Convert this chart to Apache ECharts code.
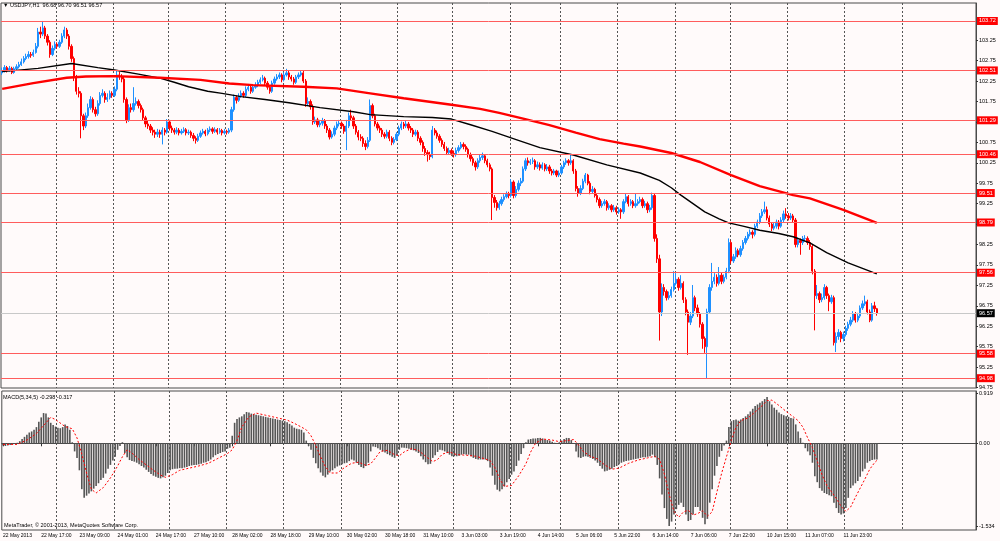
<!DOCTYPE html>
<html>
<head>
<meta charset="utf-8">
<title>USDJPY,H1</title>
<script src="https://cdn.jsdelivr.net/npm/echarts@6/dist/echarts.min.js"></script>
<style>html,body{margin:0;padding:0;background:#fffafa;}</style>
</head>
<body>
<div id="main" style="width:1000px;height:541px;"></div>
<script type="text/javascript">
// hourly bars, 22 May 2013 01:00 .. 12 Jun 2013 15:00 (open of bar i = close of bar i-1)
var firstOpen = 102.45;
var closes = [
  102.50,102.58,102.52,102.56,102.46,102.55,102.60,102.65,102.72,102.80,
  102.85,102.90,102.88,102.95,103.10,103.45,103.40,103.55,103.35,103.20,
  102.90,103.05,103.15,103.10,103.20,103.35,103.50,103.35,103.10,102.80,
  102.35,102.00,101.95,101.40,101.15,101.40,101.60,101.80,101.55,101.45,
  101.70,101.90,101.95,101.80,101.85,101.95,101.90,102.05,102.40,102.35,
  102.30,101.80,101.30,101.60,101.55,101.70,101.75,101.65,101.55,101.35,
  101.20,101.15,101.05,101.00,100.95,101.00,100.95,101.05,101.00,101.25,
  101.10,101.05,101.00,101.05,100.98,101.02,101.06,100.98,101.00,100.92,
  100.85,100.80,100.90,100.98,101.02,100.96,101.05,101.08,101.02,101.06,
  101.00,101.04,100.98,101.02,101.00,101.05,101.55,101.85,101.78,101.88,
  101.95,101.90,102.05,102.10,102.00,102.10,102.15,102.22,102.28,102.32,
  102.20,102.10,102.00,102.20,102.30,102.35,102.40,102.28,102.40,102.45,
  102.35,102.30,102.22,102.35,102.40,102.45,102.25,101.70,101.75,101.62,
  101.25,101.30,101.18,101.22,101.28,101.15,101.05,100.88,100.95,101.10,
  101.20,101.22,101.15,101.02,101.15,101.40,101.35,101.15,101.00,100.88,
  100.85,100.72,100.65,100.80,101.65,101.40,101.20,101.10,101.05,100.95,
  100.90,101.00,100.85,100.75,100.82,100.95,101.10,101.20,101.15,101.20,
  101.10,101.05,100.95,101.00,100.85,100.75,100.60,100.50,100.45,100.40,
  101.05,100.98,100.90,100.80,100.70,100.60,100.50,100.55,100.48,100.45,
  100.55,100.62,100.70,100.65,100.58,100.45,100.35,100.25,100.15,100.30,
  100.38,100.42,100.30,100.20,100.10,99.40,99.28,99.15,99.25,99.35,
  99.42,99.48,99.45,99.78,99.45,99.60,99.75,99.80,100.10,100.30,
  100.25,100.28,100.30,100.15,100.20,100.12,100.20,100.10,100.15,100.05,
  100.00,100.05,99.95,100.00,100.15,100.25,100.30,100.25,100.30,100.05,
  99.62,99.50,99.62,99.80,99.95,99.75,99.55,99.60,99.45,99.35,
  99.20,99.25,99.30,99.15,99.20,99.10,99.15,99.05,99.10,99.05,
  99.30,99.42,99.25,99.30,99.20,99.25,99.30,99.35,99.20,99.25,
  99.10,99.15,99.45,98.40,97.90,96.60,97.20,97.10,96.95,97.00,
  97.15,97.30,97.40,97.20,97.30,96.90,96.60,96.35,96.50,96.95,
  96.70,96.55,96.30,95.95,95.75,96.60,97.20,97.35,97.45,97.30,
  97.50,97.35,97.45,97.60,98.30,97.85,97.95,98.10,98.00,98.15,
  98.30,98.40,98.50,98.55,98.50,98.70,98.80,98.95,99.05,99.10,
  98.90,98.75,98.65,98.70,98.80,98.70,98.85,99.00,98.95,98.90,
  98.95,98.85,98.25,98.35,98.30,98.40,98.40,98.30,98.20,97.60,
  97.00,97.05,96.90,96.95,97.20,97.00,96.85,96.95,95.85,96.00,
  96.10,95.95,96.05,96.20,96.30,96.40,96.55,96.40,96.50,96.70,
  96.80,96.85,96.60,96.40,96.75,96.68,96.57
];
var highs = [
  102.58,102.64,102.62,102.62,102.60,102.60,102.66,102.72,102.80,102.86,
  102.92,102.98,102.96,103.02,103.18,103.55,103.58,103.72,103.60,103.40,
  103.25,103.12,103.22,103.20,103.26,103.42,103.58,103.55,103.40,103.15,
  102.85,102.40,102.10,102.00,101.45,101.48,101.70,101.88,101.85,101.62,
  101.78,101.98,102.05,102.00,101.95,102.02,102.00,102.12,102.50,102.48,
  102.42,102.36,101.85,101.68,101.70,102.10,101.85,101.80,101.70,101.60,
  101.40,101.28,101.20,101.12,101.06,101.08,101.06,101.12,101.10,101.32,
  101.30,101.16,101.10,101.12,101.10,101.08,101.12,101.10,101.06,101.04,
  100.98,100.90,100.96,101.04,101.08,101.06,101.10,101.14,101.12,101.12,
  101.10,101.10,101.08,101.08,101.06,101.10,101.62,101.92,101.90,101.95,
  102.02,102.00,102.12,102.18,102.14,102.16,102.22,102.28,102.34,102.40,
  102.36,102.25,102.15,102.26,102.36,102.42,102.46,102.44,102.46,102.55,
  102.50,102.40,102.35,102.40,102.46,102.52,102.50,102.30,101.85,101.80,
  101.68,101.38,101.35,101.30,101.35,101.32,101.20,101.10,101.02,101.16,
  101.26,101.30,101.26,101.20,101.30,101.48,101.55,101.40,101.20,101.05,
  100.95,100.90,100.80,100.88,101.80,101.70,101.45,101.25,101.16,101.10,
  101.00,101.06,101.05,100.90,100.88,101.00,101.16,101.26,101.25,101.28,
  101.25,101.15,101.10,101.06,101.05,100.90,100.80,100.66,100.56,100.52,
  101.15,101.10,101.04,100.95,100.85,100.76,100.65,100.62,100.60,100.55,
  100.62,100.68,100.76,100.75,100.70,100.62,100.50,100.40,100.30,100.36,
  100.45,100.50,100.46,100.35,100.25,100.14,99.46,99.34,99.32,99.42,
  99.48,99.55,99.54,99.85,99.82,99.68,99.82,99.88,100.16,100.36,
  100.38,100.34,100.38,100.34,100.28,100.26,100.26,100.24,100.22,100.20,
  100.10,100.10,100.08,100.06,100.20,100.30,100.36,100.34,100.45,100.34,
  100.10,99.68,99.70,99.86,100.00,99.98,99.80,99.68,99.64,99.50,
  99.40,99.32,99.36,99.34,99.26,99.24,99.22,99.20,99.16,99.14,
  99.36,99.50,99.46,99.36,99.34,99.50,99.36,99.42,99.40,99.32,
  99.30,99.22,99.52,99.50,98.50,98.00,97.30,97.28,97.15,97.10,
  97.22,97.60,97.58,97.45,97.50,97.35,96.96,96.66,96.60,97.26,
  97.00,96.78,96.60,96.35,96.00,96.68,97.28,97.80,97.55,97.52,
  97.70,97.56,97.52,97.68,98.40,98.35,98.02,98.18,98.15,98.22,
  98.36,98.46,98.56,98.62,98.60,98.76,98.86,99.02,99.12,99.30,
  99.18,98.96,98.80,98.78,98.86,98.85,98.92,99.08,99.14,99.02,
  99.02,99.00,98.90,98.42,98.40,98.46,98.48,98.45,98.36,98.25,
  97.65,97.26,97.10,97.05,97.28,97.24,97.05,97.02,97.00,96.10,
  96.18,96.14,96.12,96.26,96.36,96.48,96.62,96.60,96.58,96.76,
  96.88,97.00,96.90,96.66,96.82,96.85,96.70
];
var lows = [
  102.40,102.46,102.46,102.48,102.42,102.43,102.52,102.56,102.62,102.68,
  102.76,102.80,102.82,102.84,102.92,103.05,103.30,103.35,103.28,103.12,
  102.82,102.86,103.00,103.04,103.06,103.16,103.30,103.28,103.02,102.72,
  102.25,101.92,101.85,100.85,101.05,101.10,101.35,101.55,101.48,101.38,
  101.40,101.65,101.85,101.72,101.74,101.80,101.84,101.86,102.00,102.28,
  102.22,101.72,101.22,101.25,101.48,101.50,101.65,101.58,101.48,101.28,
  101.12,101.08,100.98,100.92,100.86,100.88,100.86,100.70,100.92,100.96,
  101.04,100.98,100.94,100.95,100.92,100.94,100.98,100.92,100.93,100.86,
  100.78,100.72,100.76,100.86,100.94,100.90,100.92,101.00,100.96,100.98,
  100.94,100.96,100.92,100.94,100.94,100.96,101.00,101.50,101.70,101.74,
  101.84,101.84,101.86,102.00,101.94,101.96,102.06,102.10,102.18,102.24,
  102.14,102.04,101.94,101.96,102.16,102.26,102.30,102.22,102.24,102.36,
  102.28,102.24,102.16,102.18,102.30,102.36,102.20,101.62,101.64,101.55,
  101.18,101.20,101.12,101.12,101.16,101.08,100.98,100.82,100.84,100.90,
  101.05,101.14,101.08,100.96,100.56,101.10,101.28,101.08,100.94,100.80,
  100.78,100.64,100.56,100.60,100.76,101.34,101.14,101.04,100.98,100.88,
  100.84,100.85,100.78,100.68,100.70,100.78,100.90,101.05,101.08,101.10,
  101.04,100.98,100.88,100.90,100.78,100.68,100.52,100.42,100.28,100.32,
  100.36,100.92,100.84,100.74,100.64,100.54,100.44,100.45,100.42,100.38,
  100.40,100.50,100.58,100.58,100.52,100.38,100.28,100.18,100.06,100.10,
  100.25,100.32,100.24,100.14,100.04,98.85,99.15,99.08,99.10,99.20,
  99.30,99.38,99.38,99.40,99.38,99.40,99.55,99.68,99.76,100.05,
  100.18,100.20,100.22,100.08,100.10,100.06,100.08,100.04,100.05,99.98,
  99.94,99.95,99.90,99.90,99.96,100.10,100.20,100.18,100.20,99.98,
  99.55,99.42,99.46,99.58,99.75,99.70,99.48,99.50,99.40,99.28,
  99.14,99.15,99.20,99.08,99.10,99.04,99.05,98.98,99.00,98.88,
  99.00,99.26,99.18,99.20,99.14,99.15,99.20,99.26,99.14,99.15,
  99.02,99.04,99.10,98.32,97.80,95.90,96.50,97.00,96.88,96.90,
  96.95,97.10,97.25,97.12,97.15,96.82,96.52,95.55,96.28,96.45,
  96.62,96.48,96.22,95.70,95.60,94.98,96.55,97.12,97.28,97.22,
  97.25,97.28,97.30,97.40,97.55,97.78,97.80,97.90,97.94,97.95,
  98.10,98.25,98.35,98.45,98.40,98.45,98.65,98.75,98.90,99.00,
  98.84,98.68,98.58,98.60,98.64,98.62,98.66,98.80,98.88,98.84,
  98.85,98.78,98.18,98.18,98.00,98.24,98.32,98.24,98.12,97.52,
  96.15,96.92,96.82,96.84,96.90,96.92,96.62,96.80,95.78,95.62,
  95.92,95.86,95.88,96.00,96.14,96.25,96.35,96.34,96.35,96.45,
  96.65,96.75,96.54,96.35,96.36,96.60,96.51
];
// MACD(5,34,5) main values, one per bar
var macd = [
  -0.04,-0.05,-0.04,-0.03,-0.02,-0.01,0.01,0.04,0.08,0.12,
  0.16,0.20,0.22,0.25,0.30,0.40,0.48,0.56,0.55,0.48,
  0.38,0.34,0.31,0.29,0.28,0.30,0.35,0.32,0.25,0.02,
  -0.15,-0.27,-0.50,-0.85,-1.01,-0.97,-0.93,-0.89,-0.84,-0.79,
  -0.74,-0.68,-0.64,-0.56,-0.47,-0.40,-0.32,-0.25,-0.12,-0.05,
  0.02,-0.18,-0.26,-0.31,-0.33,-0.34,-0.36,-0.39,-0.42,-0.45,
  -0.49,-0.53,-0.57,-0.60,-0.62,-0.64,-0.65,-0.63,-0.60,-0.55,
  -0.50,-0.48,-0.47,-0.47,-0.46,-0.46,-0.45,-0.44,-0.42,-0.41,
  -0.40,-0.40,-0.39,-0.38,-0.36,-0.35,-0.33,-0.30,-0.26,-0.22,
  -0.20,-0.18,-0.16,-0.15,-0.10,-0.08,0.14,0.38,0.45,0.48,
  0.50,0.54,0.58,0.57,0.55,0.54,0.53,0.52,0.51,0.50,
  0.49,0.48,0.47,0.46,0.45,0.44,0.43,0.42,0.41,0.39,
  0.36,0.33,0.29,0.27,0.26,0.25,0.20,0.05,-0.05,-0.12,
  -0.27,-0.37,-0.46,-0.54,-0.60,-0.63,-0.58,-0.52,-0.50,-0.46,
  -0.43,-0.41,-0.39,-0.37,-0.36,-0.33,-0.30,-0.32,-0.36,-0.40,
  -0.44,-0.46,-0.42,-0.36,-0.15,-0.06,-0.07,-0.09,-0.12,-0.15,
  -0.17,-0.20,-0.22,-0.25,-0.27,-0.22,-0.12,-0.08,-0.08,-0.09,
  -0.10,-0.12,-0.13,-0.15,-0.18,-0.24,-0.30,-0.35,-0.39,-0.38,
  -0.27,-0.22,-0.16,-0.12,-0.13,-0.15,-0.18,-0.21,-0.24,-0.24,
  -0.24,-0.23,-0.21,-0.20,-0.21,-0.21,-0.24,-0.27,-0.29,-0.30,
  -0.30,-0.30,-0.30,-0.33,-0.45,-0.60,-0.77,-0.86,-0.89,-0.85,
  -0.80,-0.72,-0.66,-0.58,-0.52,-0.42,-0.32,-0.20,-0.09,0.02,
  0.07,0.08,0.09,0.09,0.10,0.10,0.09,0.07,0.06,0.05,
  0.03,0.01,-0.01,0.02,0.05,0.08,0.10,0.10,0.06,0.00,
  -0.15,-0.26,-0.27,-0.25,-0.24,-0.25,-0.27,-0.29,-0.32,-0.36,
  -0.42,-0.47,-0.52,-0.51,-0.49,-0.47,-0.44,-0.42,-0.39,-0.36,
  -0.34,-0.33,-0.32,-0.31,-0.30,-0.29,-0.28,-0.27,-0.26,-0.26,
  -0.25,-0.24,-0.21,-0.26,-0.40,-0.65,-0.95,-1.20,-1.40,-1.53,
  -1.45,-1.32,-1.22,-1.14,-1.10,-1.18,-1.32,-1.44,-1.42,-1.32,
  -1.18,-1.18,-1.25,-1.38,-1.50,-1.40,-1.10,-0.85,-0.60,-0.42,
  -0.25,-0.14,-0.04,0.05,0.30,0.41,0.43,0.44,0.42,0.44,
  0.47,0.50,0.54,0.59,0.64,0.69,0.72,0.75,0.78,0.82,
  0.86,0.78,0.72,0.66,0.62,0.57,0.54,0.52,0.50,0.49,
  0.47,0.46,0.35,0.22,0.10,0.01,-0.09,-0.15,-0.22,-0.36,
  -0.61,-0.72,-0.83,-0.88,-0.92,-0.94,-0.96,-0.98,-1.10,-1.20,
  -1.29,-1.32,-1.30,-1.20,-1.01,-0.83,-0.78,-0.74,-0.70,-0.62,
  -0.52,-0.47,-0.36,-0.33,-0.31,-0.30,-0.298
];
// MACD signal line, read at [bar, value]
var signal = [
  [0,-0.02],[6,-0.02],[10,0.06],[14,0.18],[18,0.38],[20,0.48],[22,0.44],[26,0.31],[29,0.27],[31,0.10],
  [33,-0.20],[35,-0.55],[37,-0.85],[39,-0.92],[42,-0.82],[45,-0.64],[48,-0.42],[50,-0.25],[52,-0.12],[54,-0.18],
  [57,-0.30],[60,-0.40],[63,-0.50],[66,-0.59],[68,-0.63],[71,-0.58],[74,-0.50],[78,-0.46],[82,-0.42],[86,-0.37],
  [90,-0.28],[94,-0.19],[96,-0.12],[98,0.05],[100,0.30],[103,0.49],[106,0.56],[110,0.52],[115,0.47],[119,0.43],
  [122,0.37],[125,0.30],[127,0.25],[129,0.14],[131,-0.04],[133,-0.25],[135,-0.43],[137,-0.55],[140,-0.55],[143,-0.45],
  [146,-0.37],[149,-0.35],[152,-0.41],[154,-0.38],[156,-0.27],[158,-0.15],[161,-0.13],[164,-0.21],[166,-0.23],[168,-0.16],
  [171,-0.10],[174,-0.13],[177,-0.24],[180,-0.34],[182,-0.30],[184,-0.20],[187,-0.16],[190,-0.21],[194,-0.22],[198,-0.24],
  [202,-0.29],[204,-0.32],[206,-0.45],[208,-0.66],[210,-0.80],[213,-0.78],[216,-0.60],[219,-0.38],[221,-0.16],[223,0.00],
  [226,0.08],[230,0.06],[233,0.03],[236,0.05],[239,0.07],[241,-0.03],[243,-0.15],[246,-0.24],[249,-0.29],[252,-0.40],
  [255,-0.48],[258,-0.46],[262,-0.37],[266,-0.31],[270,-0.27],[273,-0.24],[275,-0.30],[277,-0.57],[279,-0.95],[281,-1.26],
  [283,-1.37],[285,-1.27],[287,-1.24],[289,-1.33],[291,-1.30],[293,-1.25],[295,-1.35],[297,-1.27],[299,-0.90],[301,-0.55],
  [303,-0.25],[305,0.05],[307,0.30],[309,0.42],[312,0.47],[315,0.58],[318,0.70],[320,0.79],[322,0.80],[325,0.70],
  [328,0.59],[331,0.49],[333,0.42],[335,0.30],[337,0.10],[339,-0.08],[341,-0.33],[343,-0.58],[345,-0.78],[347,-0.90],
  [349,-1.02],[351,-1.17],[353,-1.26],[355,-1.18],[357,-1.00],[359,-0.83],[361,-0.66],[363,-0.48],[365,-0.36],[366,-0.317]
];
// moving averages, read at [bar, value]
var maBlack = [
  [0,102.48],[15,102.56],[29,102.68],[40,102.58],[47,102.52],[57,102.42],[66,102.32],[72,102.22],[78,102.11],[86,102.00],
  [92,101.95],[100,101.87],[110,101.80],[120,101.72],[133,101.60],[147,101.50],[154,101.43],[168,101.38],[180,101.36],[188,101.32],
  [196,101.18],[205,101.02],[216,100.80],[225,100.62],[239,100.44],[253,100.20],[267,100.00],[275,99.82],[280,99.64],[284,99.46],
  [294,99.05],[300,98.88],[304,98.78],[310,98.70],[317,98.60],[325,98.52],[331,98.44],[338,98.29],[345,98.05],[354,97.80],[366,97.53]
];
var maRed = [
  [0,102.06],[13,102.20],[27,102.33],[35,102.36],[47,102.37],[66,102.33],[83,102.28],[95,102.19],[105,102.15],[126,102.11],
  [140,102.07],[154,101.95],[168,101.83],[188,101.67],[200,101.57],[208,101.47],[218,101.33],[229,101.17],[240,100.99],[250,100.83],
  [260,100.72],[267,100.65],[280,100.49],[292,100.27],[305,99.95],[317,99.68],[331,99.46],[338,99.38],[352,99.10],[366,98.78]
];
var levels = [103.72, 102.51, 101.29, 100.46, 99.51, 98.79, 97.56, 95.58, 94.98];
var priceTicks = [94.75,95.25,95.75,96.25,96.75,97.25,97.75,98.25,98.75,99.25,99.75,100.25,100.75,101.25,101.75,102.25,102.75,103.25];
var macdTicks = [0.919, 0, -1.534];
var timeLabels = ['22 May 2013','22 May 17:00','23 May 09:00','24 May 01:00','24 May 17:00','27 May 10:00',
  '28 May 02:00','28 May 18:00','29 May 10:00','30 May 02:00','30 May 18:00','31 May 10:00','3 Jun 03:00',
  '3 Jun 19:00','4 Jun 14:00','5 Jun 06:00','5 Jun 22:00','6 Jun 14:00','7 Jun 06:00','7 Jun 22:00',
  '10 Jun 15:00','11 Jun 07:00','11 Jun 23:00'];
var dayStarts = [23,47,70,94,118,142,166,189,213,234,258,282,305,329,353,377];

var labelStep = 16;
var slots = 408;  // bars plus the empty shift on the right
var cats = [];
for (var k = 0; k < slots; k++) cats.push(k);

var candles = closes.map(function (c, i) {
  var o = i === 0 ? firstOpen : closes[i - 1];
  return [o, c, Math.min(lows[i], o, c), Math.max(highs[i], o, c)];
});
var last = candles[candles.length - 1];
var lastPrice = last[1];
var font = 'Liberation Sans';

var isDay = function (idx) { return dayStarts.indexOf(idx) >= 0; };
var isLabel = function (idx) { return idx % labelStep === 0 && idx / labelStep < timeLabels.length; };

var myChart = echarts.init(document.getElementById('main'));

var levelLines = levels.map(function (v) {
  return {
    yAxis: v,
    lineStyle: { color: '#ff5c5c', width: 1, type: 'solid' },
    label: { show: true, position: 'end', distance: 1, formatter: v.toFixed(2),
      backgroundColor: '#ff0000', color: '#ffffff', fontSize: 5.5, fontFamily: font, padding: [1, 2, 1, 2] }
  };
});
levelLines.push({
  yAxis: lastPrice,
  lineStyle: { color: '#c8c8c8', width: 1, type: 'solid' },
  label: { show: true, position: 'end', distance: 1, formatter: lastPrice.toFixed(2),
    backgroundColor: '#000000', color: '#ffffff', fontSize: 5.5, fontFamily: font, padding: [1, 2, 1, 2] }
});

var gridLine = { show: true, interval: function (idx) { return isDay(idx); },
  lineStyle: { color: '#555', width: 1, type: [2, 2] } };

var option = {
  backgroundColor: '#fffafa',
  animation: false,
  textStyle: { fontFamily: font },
  grid: [
    { left: 1, right: 24, top: 3, height: 385, show: true, borderColor: '#4a4a4a', borderWidth: 1 },
    { left: 1, right: 24, top: 391, height: 139, show: true, borderColor: '#4a4a4a', borderWidth: 1 }
  ],
  xAxis: [
    { type: 'category', gridIndex: 0, data: cats, boundaryGap: true,
      axisLine: { show: false }, axisTick: { show: false }, axisLabel: { show: false },
      splitLine: gridLine },
    { type: 'category', gridIndex: 1, data: cats, boundaryGap: true,
      axisLine: { show: true, lineStyle: { color: '#4a4a4a' } },
      axisTick: { show: true, alignWithLabel: true, length: 3, interval: function (idx) { return isLabel(idx); },
        lineStyle: { color: '#333' } },
      axisLabel: { show: true, interval: function (idx) { return isLabel(idx); }, align: 'left', margin: 3,
        fontSize: 5, color: '#000', fontFamily: font,
        formatter: function (v, idx) { return timeLabels[idx / labelStep] || ''; } },
      splitLine: gridLine }
  ],
  yAxis: [
    { type: 'value', gridIndex: 0, position: 'right', min: 94.74, max: 104.16,
      splitLine: { show: false },
      axisLine: { show: true, lineStyle: { color: '#4a4a4a' } },
      axisTick: { show: true, length: 2, customValues: priceTicks, lineStyle: { color: '#333' } },
      axisLabel: { show: true, customValues: priceTicks, margin: 3, fontSize: 5.5, color: '#000', fontFamily: font,
        formatter: function (v) { return v.toFixed(2); } } },
    { type: 'value', gridIndex: 1, position: 'right', min: -1.606, max: 0.969,
      splitLine: { show: false },
      axisLine: { show: true, lineStyle: { color: '#4a4a4a' } },
      axisTick: { show: true, length: 2, customValues: macdTicks, lineStyle: { color: '#333' } },
      axisLabel: { show: true, customValues: macdTicks, margin: 3, fontSize: 5.5, color: '#000', fontFamily: font,
        formatter: function (v) { return v === 0 ? '0.00' : String(v); } } }
  ],
  series: [
    { name: 'USDJPY,H1', type: 'candlestick', xAxisIndex: 0, yAxisIndex: 0, data: candles,
      barWidth: 1.8,
      itemStyle: { color: '#1e90ff', color0: '#ff0000', borderColor: '#1e90ff', borderColor0: '#ff0000', borderWidth: 1 },
      markLine: { symbol: 'none', silent: true, animation: false, data: levelLines }
    },
    { name: 'MA black', type: 'line', xAxisIndex: 0, yAxisIndex: 0, data: maBlack, showSymbol: false, z: 4,
      lineStyle: { color: '#000000', width: 1.4 } },
    { name: 'MA red', type: 'line', xAxisIndex: 0, yAxisIndex: 0, data: maRed, showSymbol: false, z: 4,
      lineStyle: { color: '#ff0000', width: 2.4 } },
    { name: 'MACD', type: 'bar', xAxisIndex: 1, yAxisIndex: 1, data: macd, barWidth: 1.6,
      itemStyle: { color: '#555555' } },
    { name: 'Signal', type: 'line', xAxisIndex: 1, yAxisIndex: 1, data: signal, showSymbol: false, z: 4,
      lineStyle: { color: '#ff0000', width: 1, type: [2, 2] } }
  ],
  graphic: [
    { type: 'text', left: 3, top: 2,
      style: { text: '\u25BC USDJPY,H1  ' + last[0].toFixed(2) + ' ' + last[3].toFixed(2) + ' ' +
        last[2].toFixed(2) + ' ' + last[1].toFixed(2), fontSize: 5.5, fontFamily: font, fill: '#000' } },
    { type: 'text', left: 3, top: 394,
      style: { text: 'MACD(5,34,5) ' + macd[macd.length - 1].toFixed(3) + ' ' + signal[signal.length - 1][1].toFixed(3),
        fontSize: 5.5, fontFamily: font, fill: '#000' } },
    { type: 'text', left: 4, top: 522,
      style: { text: 'MetaTrader, \u00A9 2001-2013, MetaQuotes Software Corp.', fontSize: 5.5, fontFamily: font, fill: '#000' } }
  ]
};

myChart.setOption(option);
</script>
</body>
</html>
